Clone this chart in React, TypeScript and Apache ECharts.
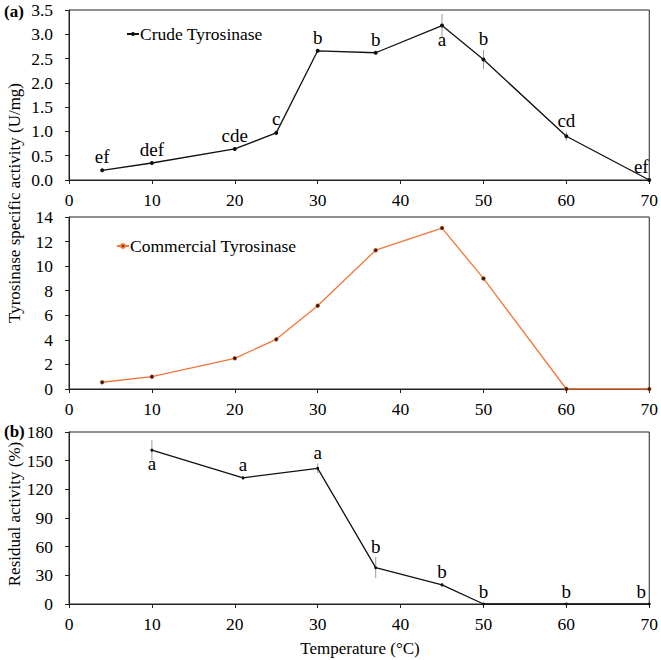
import React, { useEffect, useRef } from "react";
import * as echarts from "echarts";

// Temperature (°C) for activity panels
const tempA = [4, 10, 20, 25, 30, 37, 45, 50, 60, 70];
// Crude tyrosinase specific activity (U/mg) and SD
const crude = [0.2, 0.35, 0.64, 0.97, 2.66, 2.62, 3.18, 2.48, 0.9, 0];
const crudeSd = [0.02, 0.02, 0.03, 0.05, 0.03, 0.03, 0.24, 0.2, 0.09, 0];
const crudeLetters = ["ef", "def", "cde", "c", "b", "b", "a", "b", "cd", "ef"];
// Commercial tyrosinase specific activity (U/mg)
const commercial = [0.55, 1.0, 2.5, 4.04, 6.78, 11.3, 13.1, 9.0, 0, 0];
// Residual activity (%) after heat treatment
const tempB = [10, 21, 30, 37, 45, 50, 60, 70];
const residual = [161, 132, 142, 38, 20, 0, 0, 0];
const residualSd = [10.5, 2, 5, 11, 2, 1, 1, 0];
const residualLetters = ["a", "a", "a", "b", "b", "b", "b", "b"];

const FONT = "Liberation Serif";
const below = { crude: [6], residual: [0] };

function letterData(xs: number[], ys: number[], sd: number[], letters: string[], under: number[], pxPerUnit: number) {
  return xs.map((x, i) => {
    const low = under.includes(i);
    const bar = Math.max(0, sd[i] * pxPerUnit - 2);
    return {
      value: [x, ys[i]],
      label: {
        show: true,
        formatter: letters[i],
        position: low ? "bottom" : "top",
        offset: i === xs.length - 1 ? [-8, 0] : [0, 0],
        distance: low ? 2 : 2 + bar,
        color: "#000",
        fontFamily: FONT,
        fontSize: 19,
      },
    };
  });
}

function errorSeries(xs: number[], ys: number[], sd: number[], idx: number) {
  return {
    type: "custom",
    xAxisIndex: idx,
    yAxisIndex: idx,
    silent: true,
    z: 1,
    data: xs.map((x, i) => [x, ys[i], sd[i]]),
    encode: { x: 0, y: 1 },
    renderItem: (_p: any, api: any) => {
      const x = api.value(0);
      const y = api.value(1);
      const e = api.value(2);
      const a = api.coord([x, y + e]);
      const b = api.coord([x, y - e]);
      return {
        type: "line",
        shape: { x1: a[0], y1: a[1], x2: b[0], y2: b[1] },
        style: { stroke: "#9a9a9a", lineWidth: 1 },
      };
    },
  };
}

export default function App() {
  const ref = useRef<HTMLDivElement>(null);
  useEffect(() => {
    if (!ref.current) return;
    const chart = echarts.init(ref.current, undefined, { renderer: "svg" });
    const axisCommon = {
      axisLine: { show: true, lineStyle: { color: "#222", width: 1 } },
      axisTick: { show: true, length: 4, lineStyle: { color: "#222" } },
      splitLine: { show: false },
      axisLabel: { color: "#000", fontFamily: FONT, fontSize: 17.5 },
    };
    const xAxis = [0, 1, 2].map((g) => ({
      type: "value",
      gridIndex: g,
      min: 0,
      max: 70,
      interval: 10,
      ...axisCommon,
      axisLabel: { ...axisCommon.axisLabel, margin: 11 },
    }));
    const grids = [
      { left: 69, right: 10, top: 10, height: 170 },
      { left: 69, right: 10, top: 217, height: 172 },
      { left: 69, right: 10, top: 432, height: 172 },
    ].map((g) => ({ ...g, show: true, borderColor: "#222", borderWidth: 1, backgroundColor: "transparent" }));
    const yAxis = [
      { gridIndex: 0, min: 0, max: 3.5, interval: 0.5, fmt: (v: number) => v.toFixed(1) },
      { gridIndex: 1, min: 0, max: 14, interval: 2, fmt: (v: number) => String(v) },
      { gridIndex: 2, min: 0, max: 180, interval: 30, fmt: (v: number) => String(v) },
    ].map((a) => ({
      type: "value",
      gridIndex: a.gridIndex,
      min: a.min,
      max: a.max,
      interval: a.interval,
      ...axisCommon,
      axisLabel: { ...axisCommon.axisLabel, margin: 16, formatter: a.fmt },
    }));

    const legendText = { fontFamily: FONT, fontSize: 17.5, color: "#000", padding: [0, 0, 0, -4] };

    chart.setOption({
      animation: false,
      textStyle: { fontFamily: FONT },
      grid: grids,
      xAxis,
      yAxis,
      legend: [
        {
          data: ["Crude Tyrosinase"],
          left: 121,
          top: 20,
          itemWidth: 12,
          itemHeight: 5,
          itemGap: 0,
          textStyle: legendText,
        },
        {
          data: ["Commercial Tyrosinase"],
          left: 111,
          top: 232,
          itemWidth: 12,
          itemHeight: 5,
          itemGap: 0,
          textStyle: legendText,
        },
      ],
      series: [
        errorSeries(tempA, crude, crudeSd, 0),
        {
          name: "Crude Tyrosinase",
          type: "line",
          xAxisIndex: 0,
          yAxisIndex: 0,
          data: letterData(tempA, crude, crudeSd, crudeLetters, below.crude, 170 / 3.5),
          symbol: "circle",
          symbolSize: 4,
          lineStyle: { color: "#111", width: 1.3 },
          itemStyle: { color: "#111" },
          z: 3,
        },
        {
          name: "Commercial Tyrosinase",
          type: "line",
          xAxisIndex: 1,
          yAxisIndex: 1,
          data: tempA.map((x, i) => [x, commercial[i]]),
          symbol: "circle",
          symbolSize: 4,
          lineStyle: { color: "#F2763A", width: 1.3 },
          itemStyle: { color: "#3a1a0a", borderColor: "#F2763A", borderWidth: 0.5 },
          z: 3,
        },
        errorSeries(tempB, residual, residualSd, 2),
        {
          name: "Residual",
          type: "line",
          xAxisIndex: 2,
          yAxisIndex: 2,
          data: letterData(tempB, residual, residualSd, residualLetters, below.residual, 172 / 180),
          symbol: "circle",
          symbolSize: 3,
          lineStyle: { color: "#111", width: 1.3 },
          itemStyle: { color: "#111" },
          z: 3,
        },
      ],
      graphic: [
        {
          type: "text",
          left: 4,
          top: 3,
          style: { text: "(a)", fontFamily: FONT, fontSize: 17, fontWeight: "bold", fill: "#000" },
        },
        {
          type: "text",
          left: 4,
          top: 423,
          style: { text: "(b)", fontFamily: FONT, fontSize: 17, fontWeight: "bold", fill: "#000" },
        },
        {
          type: "text",
          x: 14,
          y: 203,
          rotation: Math.PI / 2,
          style: {
            text: "Tyrosinase specific activity (U/mg)",
            fontFamily: FONT,
            fontSize: 17,
            fill: "#000",
            align: "center",
            verticalAlign: "middle",
          },
        },
        {
          type: "text",
          x: 14,
          y: 514,
          rotation: Math.PI / 2,
          style: {
            text: "Residual activity (%)",
            fontFamily: FONT,
            fontSize: 17,
            fill: "#000",
            align: "center",
            verticalAlign: "middle",
          },
        },
        {
          type: "text",
          x: 360,
          y: 648,
          style: {
            text: "Temperature (°C)",
            fontFamily: FONT,
            fontSize: 17,
            fill: "#000",
            align: "center",
            verticalAlign: "middle",
          },
        },
      ],
    });
    return () => chart.dispose();
  }, []);
  return <div ref={ref} style={{ width: 661, height: 660, position: "absolute", left: 0, top: 0 }} />;
}
